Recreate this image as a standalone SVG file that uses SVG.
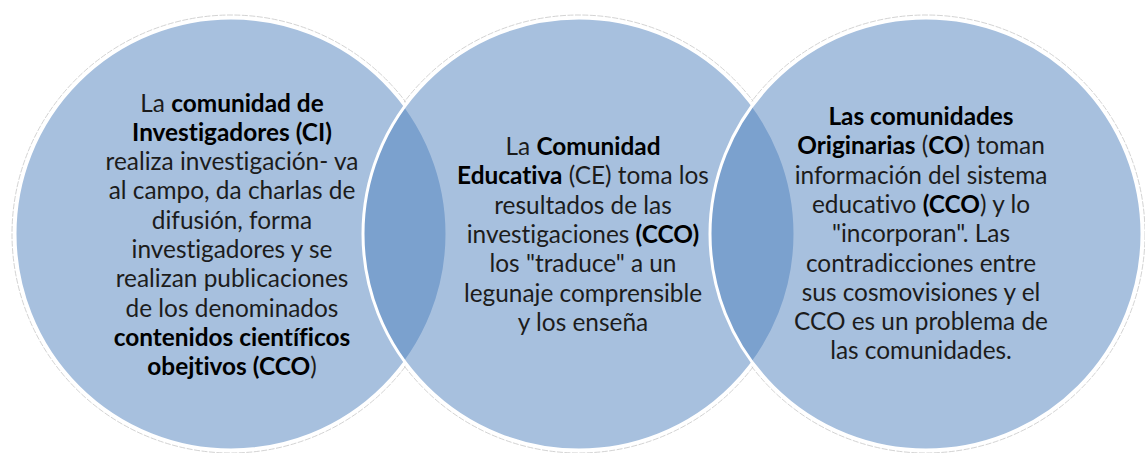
<svg xmlns="http://www.w3.org/2000/svg" width="1145" height="453" viewBox="0 0 1145 453">
<style>
.halo{fill:none;stroke:#c8c8c8;stroke-width:0.8;stroke-dasharray:6 1.5}
.base{fill:#ffffff}
.disc{fill:#4F81BD;fill-opacity:0.5;stroke:#ffffff;stroke-width:3}
text{font-family:Lato,"Open Sans","Liberation Sans",sans-serif;font-size:24.4px;fill:#1c1c1c;text-anchor:middle;font-variant-ligatures:none;font-feature-settings:"liga" 0,"dlig" 0}
.b{font-weight:bold;fill:#000000}
</style>
<rect width="1145" height="453" fill="#ffffff"/>
<g id="shadows">
<circle class="halo" cx="231" cy="234" r="219"/>
<circle class="halo" cx="579" cy="234" r="219"/>
<circle class="halo" cx="926" cy="234" r="219"/>
<circle class="base" cx="231" cy="234" r="217.5"/>
<circle class="base" cx="579" cy="234" r="217.5"/>
<circle class="base" cx="926" cy="234" r="217.5"/>
</g>
<g id="node-ci">
<circle class="disc" cx="231" cy="234" r="216"/>
<text x="232" y="111.5">La <tspan class="b">comunidad de</tspan></text>
<text x="232" y="140.8" class="b">Investigadores (CI)</text>
<text x="232" y="170.1">realiza investigación- va</text>
<text x="232" y="199.4">al campo, da charlas de</text>
<text x="232" y="228.7">difusión, forma</text>
<text x="232" y="258">investigadores y se</text>
<text x="232" y="287.3">realizan publicaciones</text>
<text x="232" y="316.6">de los denominados</text>
<text x="232" y="345.9" class="b">contenidos científicos</text>
<text x="232" y="375.2"><tspan class="b">obejtivos (CCO</tspan>)</text>
</g>
<g id="node-ce">
<circle class="disc" cx="579" cy="234" r="216"/>
<text x="583" y="155">La <tspan class="b">Comunidad</tspan></text>
<text x="583" y="184.3"><tspan class="b">Educativa</tspan> (CE) toma los</text>
<text x="583" y="213.6">resultados de las</text>
<text x="583" y="242.9">investigaciones <tspan class="b">(CCO)</tspan></text>
<text x="583" y="272.2">los "traduce" a un</text>
<text x="583" y="301.5">legunaje comprensible</text>
<text x="583" y="330.8">y los enseña</text>
</g>
<g id="node-co">
<circle class="disc" cx="926" cy="234" r="216"/>
<text x="921" y="125" class="b">Las comunidades</text>
<text x="921" y="154.3"><tspan class="b">Originarias</tspan>  (<tspan class="b">CO</tspan>) toman</text>
<text x="921" y="183.6">información del sistema</text>
<text x="921" y="212.9">educativo <tspan class="b">(CCO</tspan>) y lo</text>
<text x="921" y="242.2">"incorporan". Las</text>
<text x="921" y="271.5">contradicciones entre</text>
<text x="921" y="300.8">sus cosmovisiones y el</text>
<text x="921" y="330.1">CCO es un problema de</text>
<text x="921" y="359.4">las comunidades.</text>
</g>
</svg>
